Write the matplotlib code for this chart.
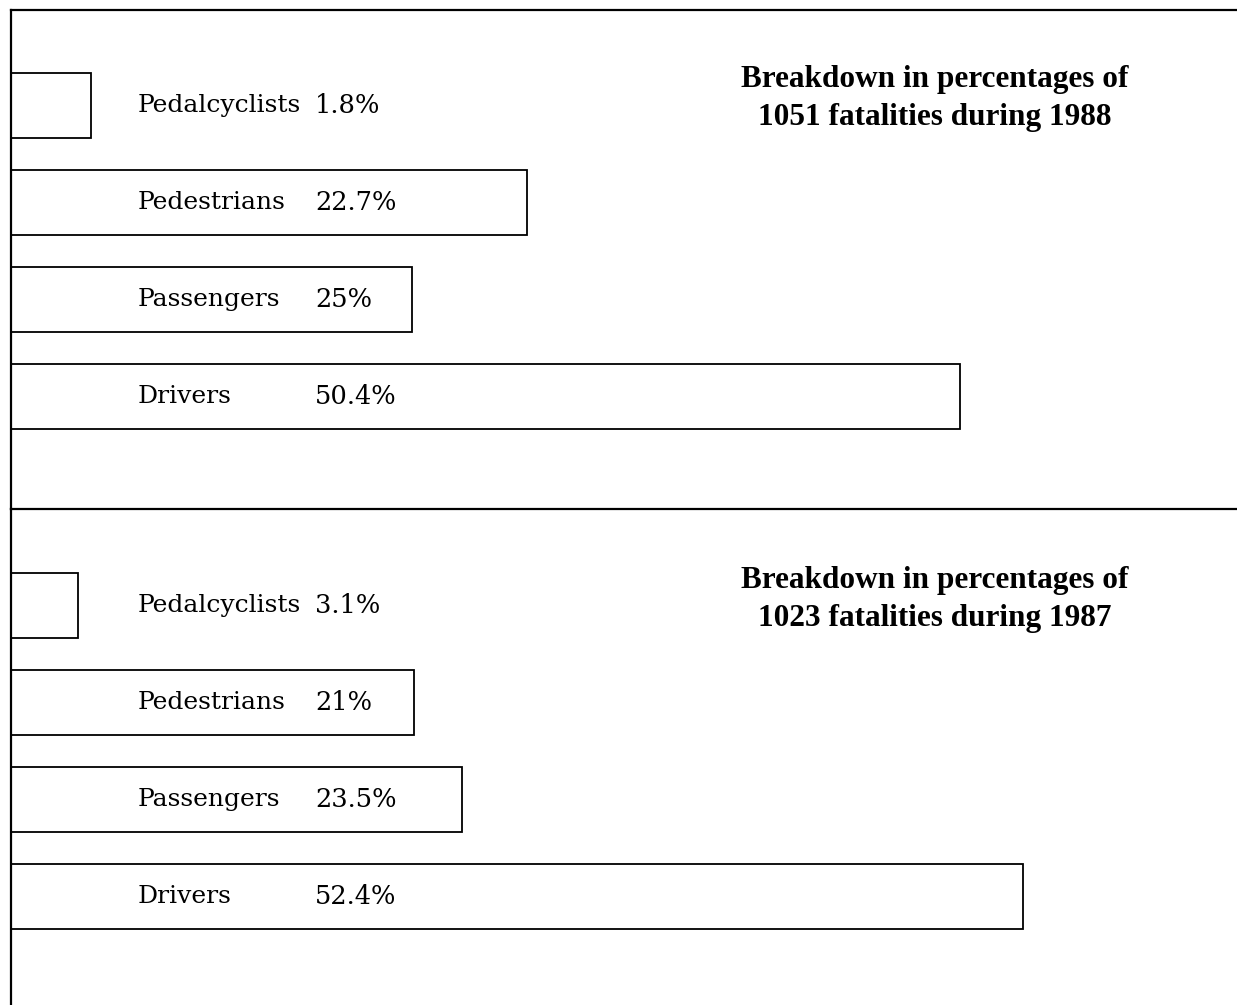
import matplotlib
matplotlib.use("Agg")
import matplotlib.pyplot as plt
import matplotlib.transforms as mtransforms

categories = ["Pedalcyclists", "Pedestrians", "Passengers", "Drivers"]
values_1988 = [1.8, 22.7, 25.0, 50.4]
values_1987 = [3.1, 21.0, 23.5, 52.4]
# bar lengths as drawn in the original graphic (percent scale)
bars_1988 = [4.2, 27.0, 21.0, 49.7]
bars_1987 = [3.5, 21.1, 23.6, 53.0]
label_1988 = ["1.8%", "22.7%", "25%", "50.4%"]
label_1987 = ["3.1%", "21%", "23.5%", "52.4%"]
title_1988 = "Breakdown in percentages of\n1051 fatalities during 1988"
title_1987 = "Breakdown in percentages of\n1023 fatalities during 1987"

W, H = 1237, 1005
fig = plt.figure(figsize=(W / 100, H / 100), dpi=100)
fig.patch.set_facecolor("white")

left = 11 / W
ax_top = fig.add_axes([left, (H - 509) / H, 1 - left, (509 - 10) / H])
ax_bot = fig.add_axes([left, 0, 1 - left, (H - 509) / H])
ax_bot.set_facecolor("none")

px_per_pct = 19.1
xmax = (W - 11) / px_per_pct

def draw(ax, bars, labels, title, ytop, ybot, ytitle):
    ypos = list(range(len(categories)))
    ax.barh(ypos, bars, height=0.67, left=0, color="white",
            edgecolor="black", linewidth=1.3)
    ax.set_xlim(0, xmax)
    ax.set_ylim(ybot, ytop)
    ax.set_xticks([])
    ax.set_yticks([])
    ax.spines["right"].set_visible(False)
    for s in ["left", "top", "bottom"]:
        ax.spines[s].set_linewidth(1.6)
    tr = mtransforms.blended_transform_factory(ax.transAxes, ax.transData)
    for y, cat, lab in zip(ypos, categories, labels):
        ax.text((138 - 11) / (W - 11), y, cat, transform=tr, ha="left",
                va="center", fontsize=18, family="DejaVu Serif")
        ax.text((315 - 11) / (W - 11), y, lab, transform=tr, ha="left",
                va="center", fontsize=18.5, family="DejaVu Serif")
    ax.text((935 - 11) / (W - 11), ytitle, title, transform=tr, ha="center",
            va="center", fontsize=22.5, family="Liberation Serif",
            fontweight="bold", linespacing=1.4)

draw(ax_top, bars_1988, label_1988, title_1988, -95.5 / 97, (499 - 95.5) / 97, -0.07)
draw(ax_bot, bars_1987, label_1987, title_1987, -96.5 / 97, (496 - 96.5) / 97, -0.06)
ax_bot.spines["top"].set_visible(False)
ax_bot.spines["bottom"].set_visible(False)

fig.savefig("out.png", dpi=100, facecolor="white")
